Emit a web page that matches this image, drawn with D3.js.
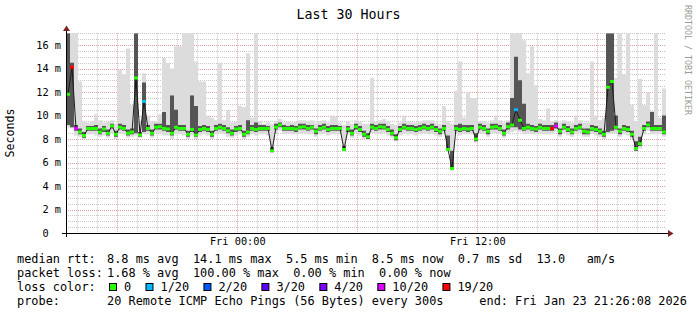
<!DOCTYPE html>
<html>
<head>
<meta charset="utf-8">
<script src="https://cdn.jsdelivr.net/npm/d3@7"></script>
<style>
  body { margin: 0; background: #fff; }
  text { font-family: "DejaVu Sans Mono", monospace; white-space: pre; }
</style>
</head>
<body>
<script>
// 30 hours of 12 minute steps, values in ms
const t0 = new Date(2026, 0, 22, 15, 26, 8),
  t1 = new Date(2026, 0, 23, 21, 26, 8),
  stepMs = 12 * 60 * 1000;

const median = [
  11.8, 14.1, 8.9, 8.6, 8.3, 8.9, 8.9, 8.9, 8.6, 8.85,
  8.5, 9.1, 8.4, 9.0, 8.9, 8.5, 8.6, 13.2, 8.35, 11.2,
  8.9, 8.5, 9.0, 9.05, 8.9, 8.85, 8.5, 9.0, 8.9, 8.9,
  8.4, 8.8, 8.35, 8.8, 8.9, 8.8, 8.4, 8.9, 9.0, 8.9,
  8.7, 8.5, 8.85, 8.9, 8.4, 8.6, 8.9, 8.8, 8.9, 8.9,
  8.9, 7.0, 9.0, 9.2, 8.9, 8.9, 8.9, 8.85, 9.0, 9.05,
  8.9, 9.0, 8.65, 8.9, 9.0, 8.8, 8.9, 8.9, 8.9, 7.1,
  8.85, 8.5, 9.05, 8.8, 8.4, 8.2, 9.0, 8.9, 9.05, 9.0,
  8.8, 8.5, 8.1, 8.8, 9.0, 8.9, 8.9, 8.8, 8.9, 9.0,
  8.9, 9.0, 8.8, 8.65, 8.9, 7.1, 5.5, 8.9, 8.8, 8.9,
  8.85, 8.9, 8.0, 9.0, 8.9, 8.65, 9.0, 9.05, 8.9, 8.5,
  9.05, 9.2, 10.5, 9.6, 8.9, 9.0, 8.9, 8.85, 9.0, 8.9,
  8.9, 8.9, 9.1, 8.65, 9.0, 8.8, 8.6, 8.9, 9.0, 8.65,
  8.6, 8.9, 8.8, 8.65, 8.4, 12.4, 12.9, 9.0, 8.65, 8.9,
  8.8, 8.4, 7.2, 7.6, 8.9, 9.2, 8.9, 8.9, 8.9, 8.6
];

const pingMax = [
  17, 17, 17, 12.9, 9.5, 9.4, 9.5, 10.1, 9.6, 9.4,
  9.5, 9.6, 9.3, 13.9, 13.5, 15.7, 10.9, 17, 9.4, 13.6,
  10.0, 9.5, 9.5, 10.1, 14.9, 14.5, 14.0, 15.9, 15.9, 17,
  17, 17, 14.6, 12.9, 12.9, 10.0, 9.8, 9.6, 14.5, 9.6,
  10.5, 9.4, 9.5, 10.8, 10.7, 15.3, 9.8, 17, 9.5, 9.3,
  9.4, 9.3, 9.5, 9.7, 9.4, 9.5, 9.4, 9.5, 9.6, 9.6,
  9.5, 9.6, 9.4, 9.5, 9.6, 9.4, 10.0, 9.9, 9.4, 9.2,
  9.5, 9.3, 9.6, 9.5, 9.3, 9.3, 13.2, 9.5, 9.6, 9.7,
  9.5, 9.3, 9.2, 9.4, 10.0, 9.5, 9.4, 9.4, 9.5, 9.6,
  9.6, 9.6, 9.4, 9.3, 10.8, 9.5, 9.3, 12.1, 14.6, 9.8,
  12.0, 11.5, 11.5, 9.5, 9.5, 9.4, 9.6, 10.0, 9.6, 9.4,
  9.6, 17, 17, 17, 16.4, 13.6, 15.9, 12.6, 9.7, 9.6,
  10.6, 9.5, 9.6, 9.4, 9.6, 9.5, 9.4, 10.0, 9.6, 9.4,
  9.4, 14.6, 10.0, 9.6, 9.8, 17, 17, 13.2, 17, 13.5,
  17, 10.9, 9.5, 13.1, 10.9, 12.0, 10.4, 17, 9.8, 12.3
];

const pingHigh = [
  17, 14.5, 9.2, 8.9, 8.6, 9.1, 9.1, 9.2, 8.9, 9.1,
  8.8, 9.3, 8.7, 9.3, 9.2, 8.8, 8.9, 17, 8.6, 12.8,
  9.2, 8.8, 9.3, 9.3, 10.3, 9.2, 11.7, 10.5, 9.2, 9.2,
  8.7, 11.7, 10.8, 9.1, 9.2, 9.1, 8.7, 9.2, 9.3, 9.2,
  9.0, 8.8, 9.1, 9.2, 8.7, 9.6, 9.2, 9.4, 9.2, 9.2,
  9.1, 7.3, 9.3, 9.4, 9.2, 9.1, 9.2, 9.1, 9.3, 9.3,
  9.2, 9.2, 8.9, 9.2, 9.3, 9.1, 9.2, 9.2, 9.1, 7.4,
  9.1, 8.8, 9.3, 9.1, 8.7, 8.5, 9.3, 9.2, 9.3, 9.3,
  9.1, 8.8, 8.4, 9.1, 9.3, 9.2, 9.2, 9.1, 9.2, 9.3,
  9.2, 9.3, 9.1, 8.9, 9.2, 8.3, 7.0, 9.2, 9.3, 9.2,
  9.2, 9.2, 8.5, 9.3, 9.2, 8.9, 9.3, 9.3, 9.2, 8.8,
  9.4, 11.5, 15.0, 13.0, 11.0, 9.3, 9.2, 9.1, 9.3, 9.2,
  9.2, 9.2, 9.4, 8.9, 9.3, 9.1, 8.9, 9.2, 9.3, 8.9,
  8.9, 9.2, 9.1, 8.9, 8.7, 17, 17, 10.0, 8.9, 9.2,
  9.1, 8.7, 7.8, 8.2, 9.2, 9.5, 10.3, 9.2, 9.2, 10.0
];

const pingLow = [
  9.2, 9.0, 8.7, 8.4, 8.1, 8.7, 8.7, 8.7, 8.4, 8.6,
  8.3, 8.9, 8.2, 8.8, 8.7, 8.3, 8.4, 8.5, 8.2, 8.6,
  8.7, 8.3, 8.8, 8.8, 8.7, 8.6, 8.3, 8.8, 8.7, 8.7,
  8.2, 8.6, 8.2, 8.6, 8.7, 8.6, 8.2, 8.7, 8.8, 8.7,
  8.5, 8.3, 8.6, 8.7, 8.2, 8.4, 8.7, 8.6, 8.7, 8.7,
  8.7, 6.9, 8.8, 9.0, 8.7, 8.7, 8.7, 8.6, 8.8, 8.8,
  8.7, 8.8, 8.4, 8.7, 8.8, 8.6, 8.7, 8.7, 8.7, 7.0,
  8.6, 8.3, 8.8, 8.6, 8.2, 8.0, 8.8, 8.7, 8.8, 8.8,
  8.6, 8.3, 7.9, 8.6, 8.8, 8.7, 8.7, 8.6, 8.7, 8.8,
  8.7, 8.8, 8.6, 8.4, 8.7, 7.0, 5.4, 8.7, 8.6, 8.7,
  8.6, 8.7, 7.8, 8.8, 8.7, 8.4, 8.8, 8.8, 8.7, 8.3,
  8.8, 9.0, 9.0, 8.8, 8.7, 8.8, 8.7, 8.6, 8.8, 8.7,
  8.7, 8.7, 8.9, 8.4, 8.8, 8.6, 8.4, 8.7, 8.8, 8.4,
  8.4, 8.7, 8.6, 8.4, 8.2, 8.6, 8.7, 8.8, 8.4, 8.7,
  8.6, 8.2, 7.0, 7.4, 8.7, 9.0, 8.7, 8.7, 8.7, 8.4
];

const pingMin = [
  9.0, 8.9, 8.3, 8.2, 8.0, 8.4, 8.4, 8.3, 8.2, 8.3,
  8.1, 8.5, 8.0, 8.4, 8.4, 8.1, 8.2, 8.3, 8.1, 8.4,
  8.4, 8.1, 8.5, 8.5, 8.3, 8.3, 8.0, 8.4, 8.4, 8.3,
  8.0, 8.3, 8.0, 8.3, 8.4, 8.3, 8.0, 8.4, 8.5, 8.4,
  8.2, 8.1, 8.3, 8.4, 8.0, 8.2, 8.4, 8.3, 8.4, 8.4,
  8.3, 6.8, 8.5, 8.7, 8.4, 8.5, 8.4, 8.4, 8.5, 8.5,
  8.4, 8.5, 8.2, 8.4, 8.5, 8.3, 8.4, 8.4, 8.4, 6.9,
  8.4, 8.1, 8.5, 8.3, 8.0, 7.9, 8.5, 8.4, 8.5, 8.5,
  8.3, 8.1, 7.8, 8.3, 8.5, 8.4, 8.4, 8.3, 8.4, 8.5,
  8.4, 8.5, 8.3, 8.2, 8.4, 6.9, 5.3, 8.4, 8.3, 8.4,
  8.4, 8.4, 7.7, 8.5, 8.4, 8.2, 8.5, 8.5, 8.4, 8.1,
  8.5, 8.6, 8.7, 8.6, 8.4, 8.5, 8.4, 8.4, 8.5, 8.4,
  8.4, 8.5, 8.6, 8.2, 8.5, 8.3, 8.2, 8.4, 8.5, 8.2,
  8.2, 8.4, 8.3, 8.2, 8.0, 8.4, 8.5, 8.5, 8.2, 8.4,
  8.3, 8.0, 6.9, 7.2, 8.4, 8.7, 8.4, 8.4, 8.4, 8.2
];

// steps with lost pings (out of 20)
const lossSteps = [1, 2, 19, 112, 121, 122];
const lossCounts = [19, 10, 1, 1, 19, 10];

const lossLabels = ["0", "1/20", "2/20", "3/20", "4/20", "10/20", "19/20"];
const lossLevels = [0, 1, 2, 3, 4, 10, 19];
const lossColors = ["#26ff00", "#00b8ff", "#0059ff", "#5e00ff", "#7e00ff", "#dd00ff", "#ff0000"];

const yTicks = [0, 2, 4, 6, 8, 10, 12, 14, 16];
const rttStats = ["8.8 ms avg", "14.1 ms max", "5.5 ms min", "8.5 ms now", "0.7 ms sd", "13.0   am/s"];
const lossStats = ["1.68 % avg", "100.00 % max", "0.00 % min", "0.00 % now"];
const probeText = "20 Remote ICMP Echo Pings (56 Bytes) every 300s";
const endText = "end: Fri Jan 23 21:26:08 2026";

const width = 697, height = 315;
const plotLeft = 66, plotRight = 666, plotTop = 33.25, plotBottom = 233;

const x = d3.scaleTime().domain([t0, t1]).range([plotLeft, plotRight]);
const y = d3.scaleLinear().domain([0, 17]).range([plotBottom, plotTop]);
const lossColor = d3.scaleThreshold().domain(lossLevels.slice(1)).range(lossColors);

const steps = median.map((m, i) => {
  const k = lossSteps.indexOf(i);
  return {
    t: new Date(+t0 + i * stepMs),
    med: m, min: pingMin[i], low: pingLow[i], high: pingHigh[i], max: pingMax[i],
    loss: k < 0 ? 0 : lossCounts[k]
  };
});
const edges = steps.concat([Object.assign({}, steps[steps.length - 1], { t: t1 })]);

const svg = d3.select("body").append("svg")
  .attr("width", width)
  .attr("height", height);

svg.append("defs").append("clipPath").attr("id", "plot")
  .append("rect")
    .attr("x", plotLeft).attr("y", plotTop)
    .attr("width", plotRight - plotLeft).attr("height", plotBottom - plotTop);

// grid
const grid = svg.append("g").attr("stroke-dasharray", "1,1").attr("stroke-width", 1);
const minorY = d3.range(0.5, 17.01, 0.5).filter(v => v % 2 !== 0);
const majorY = d3.range(2, 17, 2);
const hours = x.ticks(d3.timeHour.every(1));
const px = v => Math.round(v) + 0.5;

grid.selectAll(".hy").data(minorY).join("line")
  .attr("x1", plotLeft).attr("x2", plotRight)
  .attr("y1", d => px(y(d))).attr("y2", d => px(y(d)))
  .attr("stroke", "#c8c8c8");
grid.selectAll(".vx").data(hours.filter(d => d.getHours() % 6)).join("line")
  .attr("x1", d => px(x(d))).attr("x2", d => px(x(d)))
  .attr("y1", plotTop).attr("y2", plotBottom)
  .attr("stroke", "#c8c8c8");
grid.selectAll(".my").data(majorY).join("line")
  .attr("x1", plotLeft).attr("x2", plotRight)
  .attr("y1", d => px(y(d))).attr("y2", d => px(y(d)))
  .attr("stroke", "#e0a4a4");
grid.selectAll(".mx").data(hours.filter(d => d.getHours() % 6 === 0)).join("line")
  .attr("x1", d => px(x(d))).attr("x2", d => px(x(d)))
  .attr("y1", plotTop).attr("y2", plotBottom)
  .attr("stroke", "#e0a4a4");

// smoke
const plot = svg.append("g").attr("clip-path", "url(#plot)");
const band = (lo, hi) => d3.area()
  .curve(d3.curveStepAfter)
  .x(d => x(d.t))
  .y0(d => y(d[lo]))
  .y1(d => y(d[hi]));

plot.append("path").attr("d", band("min", "max")(edges)).attr("fill", "#dcdcdc");
plot.append("path").attr("d", band("low", "high")(edges)).attr("fill", "#555");

// median
const mid = d => new Date(+d.t + stepMs / 2);
plot.append("path")
  .attr("d", d3.line().x(d => x(mid(d))).y(d => y(d.med))(steps))
  .attr("fill", "none")
  .attr("stroke", "#1a1a1a")
  .attr("stroke-width", 1);

const seg = d3.line().x(p => x(p[0])).y(p => y(p[1]));
plot.selectAll(".med").data(steps).join("path")
  .attr("d", d => seg([[d.t, d.med], [new Date(+d.t + stepMs), d.med]]))
  .attr("stroke", d => lossColor(d.loss))
  .attr("stroke-width", 3)
  .attr("fill", "none");

// axes
svg.append("line")
  .attr("x1", 62).attr("x2", 668)
  .attr("y1", plotBottom + 0.5).attr("y2", plotBottom + 0.5)
  .attr("stroke", "#000");
svg.append("line")
  .attr("x1", plotLeft + 0.5).attr("x2", plotLeft + 0.5)
  .attr("y1", plotBottom + 4).attr("y2", 29)
  .attr("stroke", "#000");
svg.append("path")
  .attr("d", "M668,230 L673.5,233.5 L668,237 Z")
  .attr("fill", "#802020");
svg.append("path")
  .attr("d", "M63,31 L66.5,25.5 L70,31 Z")
  .attr("fill", "#802020");

svg.append("g")
  .attr("transform", `translate(${plotLeft},0)`)
  .call(d3.axisLeft(y).tickValues(yTicks).tickSize(0).tickPadding(5)
    .tickFormat(d => d ? d + " m" : "0  "))
  .call(g => g.select(".domain").remove())
  .selectAll("text")
    .attr("font-size", "10.3px")
    .attr("font-family", null)
    .attr("fill", "#000");

svg.append("g")
  .attr("transform", `translate(0,${plotBottom})`)
  .call(d3.axisBottom(x).ticks(d3.timeHour.every(12)).tickSize(0).tickPadding(4.5)
    .tickFormat(d3.timeFormat("%a %H:%M")))
  .call(g => g.select(".domain").remove())
  .selectAll("text")
    .attr("font-size", "10.3px")
    .attr("font-family", null)
    .attr("fill", "#000");

// titles
svg.append("text")
  .attr("x", 348.5).attr("y", 18.5)
  .attr("text-anchor", "middle")
  .attr("font-size", "13.3px")
  .text("Last 30 Hours");

svg.append("text")
  .attr("transform", "translate(14,133) rotate(-90)")
  .attr("text-anchor", "middle")
  .attr("font-size", "11.6px")
  .text("Seconds");

svg.append("text")
  .attr("transform", "translate(685,5) rotate(90)")
  .attr("font-size", "8.3px")
  .attr("fill", "#9a9a9a")
  .text("RRDTOOL / TOBI OETIKER");

// legend
const charW = 7.16;
const legend = svg.append("g").attr("font-size", "11.9px");
const row = (label, yb) => legend.append("text").attr("x", 17).attr("y", yb).text(label);

row("median rtt:", 263);
legend.append("text").attr("x", 107).attr("y", 263).text(rttStats.join("  "));
row("packet loss:", 277);
legend.append("text").attr("x", 107).attr("y", 277).text(lossStats.join("  "));
row("loss color:", 291);
row("probe:", 305);
legend.append("text").attr("x", 107).attr("y", 305).text(probeText);
legend.append("text").attr("x", 107 + (probeText.length + 5) * charW).attr("y", 305).text(endText);

let lx = 109;
lossLabels.forEach((label, i) => {
  legend.append("rect")
    .attr("x", lx + 0.5).attr("y", 283.5)
    .attr("width", 7).attr("height", 7)
    .attr("fill", lossColors[i])
    .attr("stroke", "#000");
  legend.append("text").attr("x", lx + 15).attr("y", 291).text(label);
  lx += 15 + (label.length + 2) * charW;
});
</script>
</body>
</html>
